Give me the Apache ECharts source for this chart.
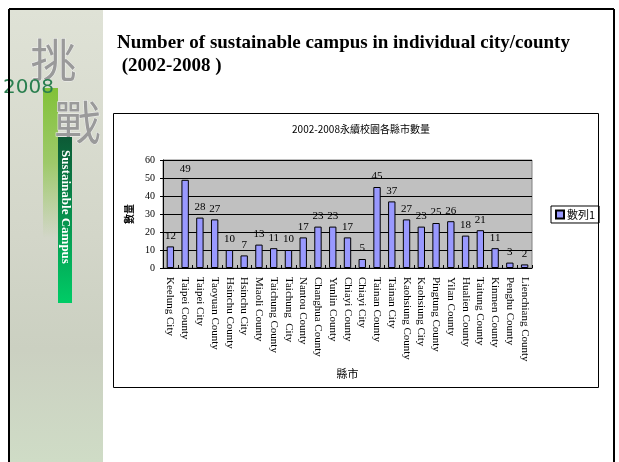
<!DOCTYPE html>
<html>
<head>
<meta charset="utf-8">
<script src="https://cdn.jsdelivr.net/npm/echarts@6/dist/echarts.min.js"></script>
<style>
html,body{margin:0;padding:0;background:#fff;}
#main{width:619px;height:462px;}
</style>
</head>
<body>
<div id="main"></div>
<script>
const categories = ["Keelung City","Taipei County","Taipei City","Taoyuan County","Hsinchu County","Hsinchu City","Miaoli County","Taichung County","Taichung  City","Nantou County","Changhua County","Yunlin County","Chiayi County","Chiayi City","Tainan County","Tainan City","Kaohsiung County","Kaohsiung City","Pingtung County","Yilan County","Hualien County","Taitung County","Kinmen County","Penghu County","Lienchiang County"];
const values = [12,49,28,27,10,7,13,11,10,17,23,23,17,5,45,37,27,23,25,26,18,21,11,3,2];
const seriesName = "數列1";
const chartTitle = "2002-2008永續校園各縣市數量";
const slideTitle1 = "Number of sustainable campus in individual city/county";
const slideTitle2 = " (2002-2008 )";
const yTicks = [0,10,20,30,40,50,60];

const chart = echarts.init(document.getElementById('main'));
const serif = '"Liberation Serif","Times New Roman",serif';
const cjk = '"Noto Sans CJK TC","Noto Sans CJK SC",sans-serif';

const option = {
  animation: false,
  backgroundColor: '#ffffff',
  title: {
    text: chartTitle,
    left: 356, top: 119, textAlign: 'center',
    textStyle: {fontSize: 10, fontWeight: 'normal', color: '#000', fontFamily: cjk}
  },
  legend: {
    data: [seriesName],
    left: 551, top: 206,
    orient: 'vertical',
    borderColor: '#000', borderWidth: 1, padding: [3, 4, 3, 4],
    itemWidth: 8, itemHeight: 8, itemGap: 2,
    icon: 'rect',
    textStyle: {fontSize: 11, color: '#000', fontFamily: cjk, padding: [0,0,0,-2]}
  },
  grid: {
    left: 163, right: 87, top: 160, bottom: 194,
    show: true, backgroundColor: '#c0c0c0', borderColor: '#808080', borderWidth: 1,
    containLabel: false
  },
  xAxis: {
    type: 'category',
    data: categories,
    name: '縣市', nameLocation: 'middle', nameGap: 100,
    nameTextStyle: {fontSize: 11, color: '#000', fontFamily: cjk},
    axisLine: {lineStyle: {color: '#000', width: 1}},
    axisTick: {show: true, inside: true, length: 3, lineStyle: {color: '#000'}},
    axisLabel: {rotate: -90, interval: 0, fontSize: 11, color: '#000', fontFamily: serif, margin: 9}
  },
  yAxis: {
    type: 'value', min: 0, max: 60, interval: 10,
    name: '數量', nameLocation: 'middle', nameGap: 23, nameRotate: 90,
    nameTextStyle: {fontSize: 10, fontWeight: 'bold', color: '#000', fontFamily: cjk},
    axisLine: {show: true, lineStyle: {color: '#000', width: 1}},
    axisTick: {show: true, length: 3, lineStyle: {color: '#000'}},
    axisLabel: {fontSize: 10, color: '#000', fontFamily: serif, margin: 8},
    splitLine: {show: true, lineStyle: {color: '#000', width: 1}}
  },
  series: [{
    name: seriesName,
    type: 'bar',
    data: values,
    barWidth: '50%',
    itemStyle: {color: '#9999ff', borderColor: '#000', borderWidth: 1},
    label: {show: true, position: 'top', distance: 5, fontSize: 11, color: '#000', fontFamily: serif}
  }],
  graphic: [
    // left decorative strip
    {type: 'rect', z: -10, shape: {x: 10, y: 10, width: 93, height: 452},
     style: {fill: new echarts.graphic.LinearGradient(0,0,0,1,[
       {offset:0,color:'#dfe2d6'},{offset:0.5,color:'#d3d6c9'},{offset:0.75,color:'#cbd0c1'},{offset:1,color:'#cfdcc6'}])}},
    {type: 'rect', z: -9, shape: {x: 43, y: 88, width: 15, height: 150},
     style: {fill: new echarts.graphic.LinearGradient(0,0,0,1,[
       {offset:0,color:'rgba(120,190,40,0.9)'},{offset:0.5,color:'rgba(120,190,40,0.6)'},{offset:1,color:'rgba(120,190,40,0)'}])}},
    {type: 'text', z: -8, left: 30, top: 36,
     style: {text: '挑', font: '46px "Noto Sans CJK TC"', fill: '#9a9a9a', stroke: '#f0f0f0', lineWidth: 1}},
    {type: 'text', z: -8, left: 54, top: 98,
     style: {text: '戰', font: '46px "Noto Sans CJK TC"', fill: '#9a9a9a', stroke: '#f0f0f0', lineWidth: 1}},
    {type: 'text', z: -7, left: 3, top: 78,
     style: {text: '2008', font: '20px "DejaVu Sans"', fill: '#2a7f4f'}},
    {type: 'rect', z: -6, shape: {x: 58, y: 137, width: 14, height: 166},
     style: {fill: new echarts.graphic.LinearGradient(0,0,0,1,[
       {offset:0,color:'#0d5a36'},{offset:1,color:'#00cc66'}])}},
    {type: 'text', z: -5, x: 65, y: 207, rotation: -Math.PI/2,
     style: {text: 'Sustainable Campus', font: 'bold 13px "Liberation Serif"', fill: '#ffffff', align: 'center', verticalAlign: 'middle'}},
    // slide frame
    {type: 'line', shape: {x1: 9, y1: 9, x2: 614, y2: 9}, style: {stroke: '#000', lineWidth: 2}},
    {type: 'line', shape: {x1: 9, y1: 9, x2: 9, y2: 462}, style: {stroke: '#000', lineWidth: 2}},
    {type: 'line', shape: {x1: 614, y1: 9, x2: 614, y2: 462}, style: {stroke: '#000', lineWidth: 2}},
    // slide title
    {type: 'text', left: 117, top: 34,
     style: {text: slideTitle1, font: 'bold 19px "Liberation Serif"', fill: '#000'}},
    {type: 'text', left: 117, top: 57,
     style: {text: slideTitle2, font: 'bold 19px "Liberation Serif"', fill: '#000'}},
    // chart box
    {type: 'rect', z: -20, shape: {x: 113.5, y: 113.5, width: 485, height: 274},
     style: {fill: '#fff', stroke: '#000', lineWidth: 1}}
  ]
};
chart.setOption(option);
</script>
</body>
</html>
